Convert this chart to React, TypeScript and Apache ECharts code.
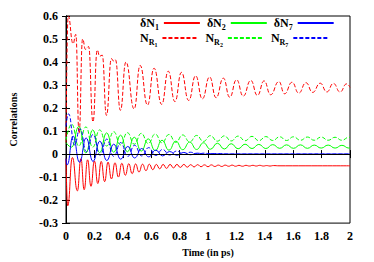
import React, { useEffect, useRef } from "react";
import * as echarts from "echarts";

// [time (ps), correlation] — extrema
const dN1: number[][] = [
  [0, -0.02], [0.012, -0.225], [0.045, -0.015], [0.08, -0.16], [0.105, -0.02],
  [0.128, -0.155], [0.152, -0.025], [0.176, -0.14], [0.2, -0.03], [0.224, -0.128],
  [0.248, -0.032], [0.272, -0.12], [0.296, -0.035], [0.32, -0.108], [0.345, -0.038],
  [0.369, -0.1], [0.393, -0.04], [0.418, -0.092], [0.442, -0.042], [0.466, -0.085],
  [0.49, -0.043], [0.514, -0.078], [0.539, -0.044], [0.563, -0.072], [0.587, -0.044],
  [0.611, -0.068], [0.636, -0.045], [0.66, -0.064], [0.684, -0.045], [0.708, -0.062],
  [0.733, -0.045], [0.757, -0.06], [0.781, -0.045], [0.805, -0.058], [0.83, -0.045],
  [0.854, -0.057], [0.878, -0.046], [0.902, -0.056], [0.927, -0.046], [0.951, -0.055],
  [0.975, -0.047], [1.0, -0.055], [1.024, -0.047], [1.048, -0.054], [1.073, -0.048],
  [1.097, -0.054], [1.121, -0.048], [1.146, -0.053], [1.17, -0.048], [1.194, -0.053],
  [1.218, -0.049], [1.243, -0.053], [1.267, -0.049], [1.291, -0.052], [1.316, -0.049],
  [1.34, -0.052], [1.364, -0.049], [1.39, -0.052], [1.413, -0.05], [1.437, -0.052],
  [1.46, -0.05], [1.5, -0.051], [2.0, -0.051],
];

const NR1: number[][] = [
  [0, 0.05], [0.015, 0.6], [0.05, 0.48], [0.069, 0.52], [0.092, 0.09],
  [0.117, 0.5], [0.137, 0.455], [0.159, 0.467], [0.19, 0.14], [0.22, 0.452],
  [0.237, 0.425], [0.255, 0.43], [0.285, 0.168], [0.32, 0.415], [0.333, 0.405],
  [0.348, 0.41], [0.383, 0.19], [0.422, 0.4], [0.48, 0.196], [0.522, 0.385],
  [0.574, 0.213], [0.62, 0.373], [0.674, 0.216], [0.72, 0.36], [0.767, 0.228],
  [0.813, 0.355], [0.864, 0.233], [0.913, 0.34], [0.96, 0.24], [1.011, 0.335],
  [1.057, 0.245], [1.108, 0.33], [1.153, 0.247], [1.201, 0.323], [1.248, 0.252],
  [1.301, 0.32], [1.348, 0.255], [1.395, 0.318], [1.441, 0.258], [1.499, 0.315],
  [1.539, 0.262], [1.592, 0.312], [1.639, 0.265], [1.69, 0.31], [1.737, 0.268],
  [1.79, 0.308], [1.837, 0.27], [1.883, 0.307], [1.93, 0.27], [1.976, 0.305],
  [2.0, 0.29],
];

const dN2: number[][] = [
  [0, 0.05], [0.04, 0.03], [0.09, 0.12], [0.14, 0.005], [0.188, 0.105],
  [0.237, 0.006], [0.286, 0.092], [0.336, 0.008], [0.384, 0.082], [0.432, 0.01],
  [0.481, 0.073], [0.53, 0.013], [0.579, 0.066], [0.628, 0.015], [0.676, 0.06],
  [0.725, 0.017], [0.773, 0.056], [0.822, 0.019], [0.871, 0.052], [0.92, 0.02],
  [0.968, 0.049], [1.017, 0.021], [1.066, 0.047], [1.115, 0.022], [1.163, 0.045],
  [1.212, 0.023], [1.261, 0.043], [1.31, 0.024], [1.358, 0.042], [1.407, 0.024],
  [1.456, 0.041], [1.505, 0.025], [1.553, 0.04], [1.602, 0.025], [1.651, 0.04],
  [1.7, 0.025], [1.748, 0.039], [1.797, 0.026], [1.846, 0.039], [1.895, 0.026],
  [1.943, 0.038], [1.992, 0.026], [2.0, 0.027],
];

const NR2: number[][] = [
  [0, 0.06], [0.04, 0.13], [0.09, 0.035], [0.14, 0.118], [0.188, 0.03],
  [0.237, 0.105], [0.286, 0.035], [0.336, 0.097], [0.384, 0.04], [0.432, 0.093],
  [0.481, 0.043], [0.53, 0.09], [0.579, 0.046], [0.628, 0.087], [0.676, 0.049],
  [0.725, 0.085], [0.773, 0.051], [0.822, 0.083], [0.871, 0.053], [0.92, 0.081],
  [0.968, 0.055], [1.017, 0.08], [1.066, 0.056], [1.115, 0.079], [1.163, 0.057],
  [1.212, 0.078], [1.261, 0.058], [1.31, 0.077], [1.358, 0.058], [1.407, 0.076],
  [1.456, 0.059], [1.505, 0.075], [1.553, 0.059], [1.602, 0.075], [1.651, 0.06],
  [1.7, 0.074], [1.748, 0.06], [1.797, 0.074], [1.846, 0.06], [1.895, 0.073],
  [1.943, 0.06], [1.992, 0.073], [2.0, 0.072],
];

const dN7: number[][] = [
  [0, -0.02], [0.008, -0.047], [0.05, 0.078], [0.095, -0.035], [0.142, 0.07],
  [0.19, -0.032], [0.238, 0.056], [0.287, -0.028], [0.336, 0.043], [0.385, -0.022],
  [0.435, 0.033], [0.483, -0.017], [0.533, 0.024], [0.582, -0.012], [0.632, 0.017],
  [0.68, -0.008], [0.73, 0.011], [0.78, -0.005], [0.83, 0.007], [0.875, -0.003],
  [0.925, 0.004], [0.975, -0.001], [1.02, 0.002], [1.1, 0], [2.0, 0],
];

const NR7: number[][] = [
  [0, 0.12], [0.018, 0.175], [0.06, 0.04], [0.098, 0.11], [0.145, 0.01],
  [0.19, 0.085], [0.24, -0.005], [0.287, 0.065], [0.336, -0.01], [0.385, 0.05],
  [0.435, -0.01], [0.483, 0.038], [0.533, -0.008], [0.582, 0.028], [0.632, -0.006],
  [0.68, 0.02], [0.73, -0.004], [0.78, 0.013], [0.83, -0.002], [0.875, 0.008],
  [0.925, 0], [0.975, 0.004], [1.02, 0], [1.07, 0.002], [1.15, 0], [2.0, 0],
];

const legendRow1 = ["dN1", "dN2", "dN7"];
const legendRow2 = ["NR1", "NR2", "NR7"];
const legendText: Record<string, string> = {
  dN1: "{m|δN}{s|1}",
  dN2: "{m|δN}{s|2}",
  dN7: "{m|δN}{s|7}",
  NR1: "{m|N}{s|R}{ss|1}",
  NR2: "{m|N}{s|R}{ss|2}",
  NR7: "{m|N}{s|R}{ss|7}",
};

const FONT = "'Liberation Serif', 'Times New Roman', serif";

export default function App() {
  const ref = useRef<HTMLDivElement>(null);
  useEffect(() => {
    if (!ref.current) return;
    const chart = echarts.init(ref.current, undefined, { renderer: "svg" });
    const rich = {
      m: { fontSize: 12, fontWeight: "bold", fontFamily: FONT, color: "#000", lineHeight: 12, verticalAlign: "top" },
      s: { fontSize: 8, fontWeight: "bold", fontFamily: FONT, color: "#000", lineHeight: 8, verticalAlign: "top", padding: [6, 0, 0, 0] },
      ss: { fontSize: 6, fontWeight: "bold", fontFamily: FONT, color: "#000", lineHeight: 6, verticalAlign: "top", padding: [10, 0, 0, 0] },
    };
    const legendBase = {
      orient: "horizontal",
      left: 140,
      padding: 0,
      itemWidth: 36,
      itemHeight: 8,
      itemGap: 6,
      align: "right",
      selectedMode: false,
      itemStyle: { opacity: 0, borderWidth: 0 },
      formatter: (n: string) => legendText[n],
      textStyle: { rich, fontFamily: FONT },
    };
    const mkLine = (name: string, data: number[][], color: string, dashed: boolean, extra: any = {}) => ({
      name,
      type: "line",
      data,
      symbol: "none",
      showSymbol: false,
      smooth: 0.5,
      smoothMonotone: "x",
      lineStyle: { color, width: 1, type: dashed ? [4, 2] : "solid" },
      itemStyle: { color },
      ...extra,
    });
    const axisCommon = {
      axisLine: { show: true, lineStyle: { color: "#000", width: 1 } },
      axisTick: { show: true, inside: true, length: 4, lineStyle: { color: "#000" } },
      splitLine: { show: false },
    };
    chart.setOption({
      animation: false,
      backgroundColor: "#fff",
      legend: [
        { ...legendBase, top: 17, data: legendRow1 },
        { ...legendBase, top: 32, data: legendRow2 },
      ],
      grid: { left: 63.5, right: 24, top: 16, bottom: 37, show: true, borderColor: "#000", borderWidth: 1 },
      xAxis: [
        {
          type: "value", min: 0, max: 2, interval: 0.2,
          name: "Time (in ps)", nameLocation: "middle", nameGap: 21,
          nameTextStyle: { fontFamily: FONT, fontWeight: "bold", fontSize: 10, color: "#000" },
          axisLabel: { fontFamily: FONT, fontWeight: "bold", fontSize: 12, color: "#000", margin: 7 },
          ...axisCommon,
        },
        {
          type: "value", min: 0, max: 2, interval: 0.2, position: "top",
          axisLabel: { show: false }, ...axisCommon,
        },
      ],
      yAxis: [
        {
          type: "value", min: -0.3, max: 0.6, interval: 0.1,
          name: "Correlations", nameLocation: "middle", nameGap: 48,
          nameTextStyle: { fontFamily: FONT, fontWeight: "bold", fontSize: 10, color: "#000" },
          axisLabel: { fontFamily: FONT, fontWeight: "bold", fontSize: 12, color: "#000", margin: 8 },
          ...axisCommon,
        },
        {
          type: "value", min: -0.3, max: 0.6, interval: 0.1, position: "right",
          axisLabel: { show: false }, ...axisCommon,
        },
      ],
      series: [
        mkLine("dN1", dN1, "#ff0000", false, {
          markLine: {
            silent: true, symbol: "none", label: { show: false },
            lineStyle: { color: "#000", type: "solid", width: 1 },
            data: [{ yAxis: 0 }],
          },
        }),
        mkLine("NR1", NR1, "#ff0000", true),
        mkLine("dN2", dN2, "#00ff00", false),
        mkLine("NR2", NR2, "#00ff00", true),
        mkLine("dN7", dN7, "#0000ff", false),
        mkLine("NR7", NR7, "#0000ff", true),
      ],
    } as any);
    return () => chart.dispose();
  }, []);
  return (
    <div
      ref={ref}
      style={{ position: "fixed", left: 0, top: 0, width: 374, height: 262, background: "#fff" }}
    />
  );
}
